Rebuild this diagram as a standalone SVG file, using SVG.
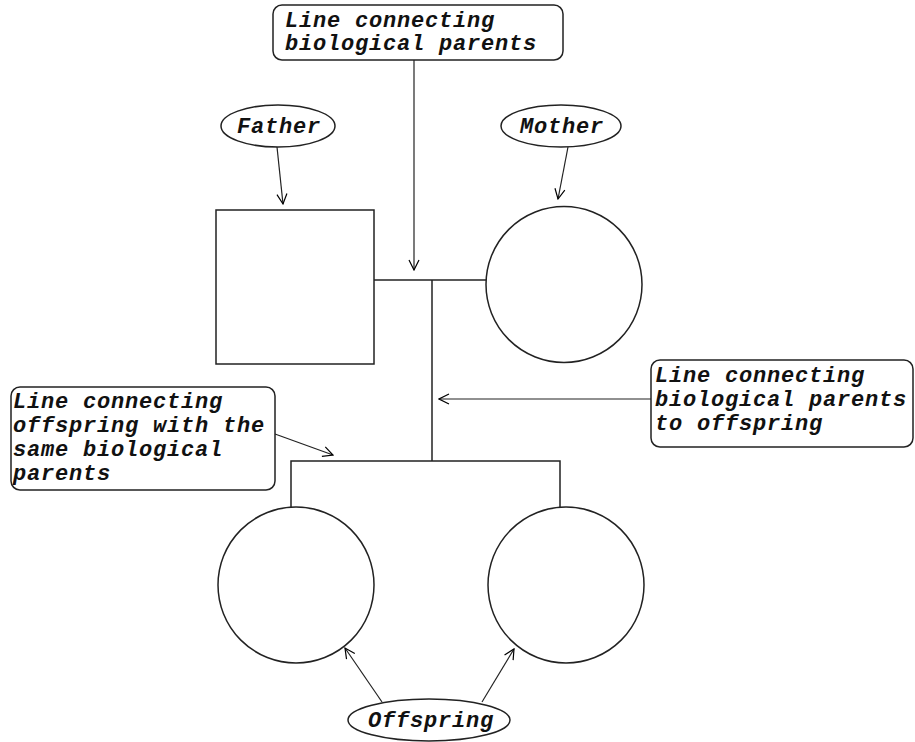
<svg xmlns="http://www.w3.org/2000/svg" width="915" height="742" viewBox="0 0 915 742">
<defs>
<marker id="arr" viewBox="0 0 12 12" refX="11" refY="6" markerWidth="12" markerHeight="12" markerUnits="userSpaceOnUse" orient="auto">
<path d="M1,1 L11,6 L1,11" fill="none" stroke="#000" stroke-width="1.2"/>
</marker>
</defs>
<style>
.s{fill:#fff;stroke:#222;stroke-width:1.5}
.l{fill:none;stroke:#222;stroke-width:1.5}
.a{fill:none;stroke:#222;stroke-width:1.2;marker-end:url(#arr)}
text{font-family:"Liberation Mono","DejaVu Sans Mono",monospace;font-style:italic;font-weight:bold;font-size:22px;letter-spacing:0.8px;fill:#111}
.c{text-anchor:middle}
</style>
<rect width="915" height="742" fill="#fff"/>
<g id="connectors">
<line class="a" x1="414" y1="60" x2="414" y2="270"/>
<line class="l" x1="374" y1="280" x2="486" y2="280"/>
<line class="l" x1="432" y1="280" x2="432" y2="461"/>
<polyline class="l" points="291,507 291,461 560,461 560,507"/>
<line class="a" x1="277" y1="147" x2="283" y2="204"/>
<line class="a" x1="568" y1="147" x2="558" y2="199"/>
<line class="a" x1="651" y1="399" x2="439" y2="399"/>
<line class="a" x1="275" y1="434" x2="333" y2="455"/>
<line class="a" x1="382" y1="702" x2="345" y2="648"/>
<line class="a" x1="482" y1="702" x2="514" y2="649"/>
</g>
<g id="father"><rect class="s" x="216" y="210" width="158" height="154"/></g>
<g id="mother"><circle class="s" cx="564" cy="284.5" r="78"/></g>
<g id="child1"><circle class="s" cx="296" cy="585" r="78"/></g>
<g id="child2"><circle class="s" cx="566" cy="585" r="78"/></g>
<g id="label-parents-line">
<rect class="s" x="273" y="5" width="290" height="55" rx="9"/>
<text x="285" y="27">Line connecting</text>
<text x="285" y="50">biological parents</text>
</g>
<g id="label-father">
<ellipse class="s" cx="278" cy="126" rx="57" ry="21"/>
<text class="c" x="279" y="133">Father</text>
</g>
<g id="label-mother">
<ellipse class="s" cx="561" cy="126" rx="60" ry="21"/>
<text class="c" x="562" y="133">Mother</text>
</g>
<g id="label-descent">
<rect class="s" x="651" y="360" width="262" height="87" rx="9"/>
<text x="655" y="382">Line connecting</text>
<text x="655" y="406">biological parents</text>
<text x="655" y="430">to offspring</text>
</g>
<g id="label-sibship">
<rect class="s" x="11" y="387" width="264" height="103" rx="9"/>
<text x="13" y="408">Line connecting</text>
<text x="13" y="432">offspring with the</text>
<text x="13" y="456">same biological</text>
<text x="13" y="480">parents</text>
</g>
<g id="label-offspring">
<ellipse class="s" cx="429" cy="720" rx="81" ry="21"/>
<text class="c" x="431" y="727">Offspring</text>
</g>
</svg>
